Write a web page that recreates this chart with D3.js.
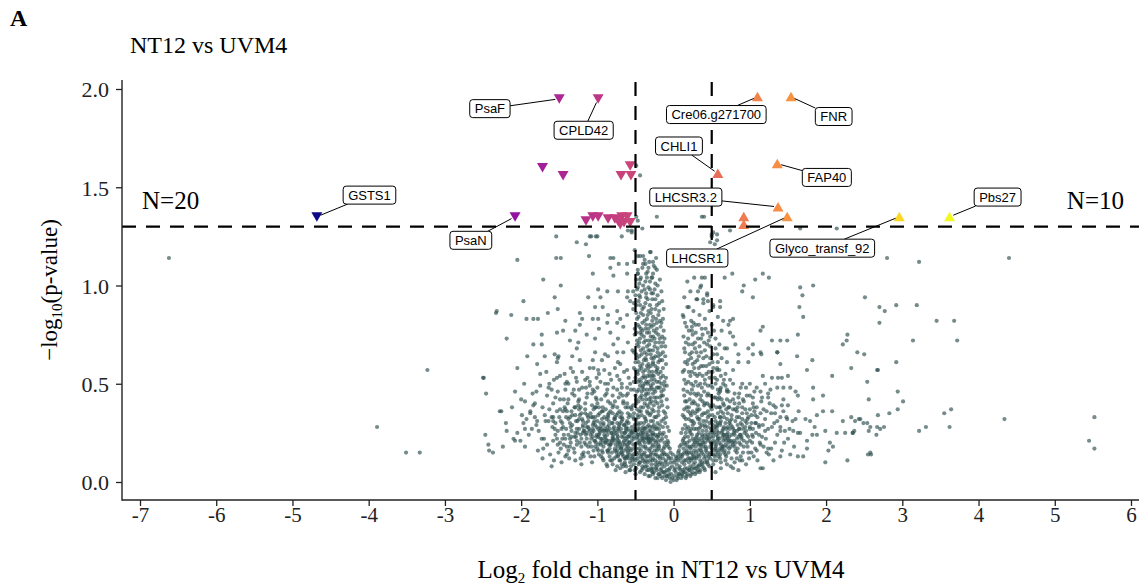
<!DOCTYPE html>
<html>
<head>
<meta charset="utf-8">
<script src="https://cdn.jsdelivr.net/npm/d3@7"></script>
<style>
  body { margin: 0; background: #fff; }
  svg { display: block; }
  .tick text { font-family: 'Liberation Serif', 'Times New Roman', serif; }
</style>
</head>
<body>
<svg id="chart" width="1139" height="587"></svg>
<script>
// axis ticks
var xTicks = [-7, -6, -5, -4, -3, -2, -1, 0, 1, 2, 3, 4, 5, 6];
var yTicks = [0, 0.5, 1, 1.5, 2];
var fcCut = [-0.5, 0.5];
var pCut = 1.3;
var nDown = "N=20", nUp = "N=10";

// significant proteins (log2 FC, -log10 p)
var sigGene = ["GSTS1", "PsaN", "PsaF", "CPLD42", "", "", "", "", "",
  "", "", "", "", "", "", "", "", "", "", "",
  "Cre06.g271700", "FNR", "CHLI1", "FAP40", "LHCSR3.2", "LHCSR1", "", "", "Glyco_transf_92", "Pbs27"];
var sigFC = [-4.68, -2.08, -1.50, -0.99, -1.72, -1.45, -0.69, -0.57, -0.56,
  -1.15, -1.06, -0.99, -0.86, -0.77, -0.73, -0.68, -0.61, -0.65, -0.57, -0.70,
  1.10, 1.54, 0.58, 1.36, 1.37, 1.49, 0.92, 0.92, 2.96, 3.62];
var sigP = [1.35, 1.35, 1.95, 1.95, 1.60, 1.56, 1.56, 1.61, 1.56,
  1.33, 1.35, 1.35, 1.34, 1.34, 1.33, 1.35, 1.35, 1.32, 1.32, 1.31,
  1.96, 1.96, 1.57, 1.62, 1.40, 1.35, 1.35, 1.31, 1.35, 1.35];

// where the repelled labels sit (data units)
var labelGene = ["GSTS1", "PsaN", "PsaF", "CPLD42", "Cre06.g271700", "FNR", "CHLI1", "FAP40", "LHCSR3.2", "LHCSR1", "Glyco_transf_92", "Pbs27"];
var labelX = [-3.99, -2.66, -2.41, -1.18, 0.56, 2.10, 0.07, 2.01, 0.16, 0.31, 1.95, 4.25];
var labelY = [1.46, 1.23, 1.90, 1.79, 1.87, 1.86, 1.71, 1.55, 1.45, 1.14, 1.19, 1.45];

// non-significant proteins, read region by region
var bgSparse = [[-6.62,1.14],[-3.23,0.57],[-3.89,0.28],[-3.51,0.15],[-3.33,0.15],[-2.33,0.86],[-2.49,0.53],[-2.46,0.45],[-2.47,0.24],[-2.43,0.19],[-2.42,0.16],[-2.37,0.15],[-2.28,0.36],[-2.24,0.18],[-2.19,0.26],
  [2.80,1.14],[3.22,1.12],[4.40,1.14],[2.51,0.94],[2.70,0.89],[2.77,0.87],[2.92,0.90],[3.19,0.90],[2.70,0.81],[3.45,0.82],[3.68,0.82],[3.14,0.72],[3.72,0.72],[2.41,0.66],[2.50,0.65],[2.33,0.58],[2.68,0.57],[2.92,0.61],[2.54,0.51],[2.56,0.42],[2.94,0.46],[3.01,0.41],[2.94,0.37],[2.68,0.34],[2.83,0.35],[3.55,0.35],[3.64,0.37],[2.33,0.33],[2.38,0.31],[2.43,0.32],[2.49,0.30],[2.54,0.30],[2.58,0.28],[2.56,0.26],[2.66,0.24],[2.71,0.27],[2.76,0.28],[2.35,0.25],[2.37,0.26],[3.22,0.26],[3.31,0.28],[3.62,0.28],[4.34,0.32],[5.52,0.33],[5.45,0.21],[5.52,0.17],[2.55,0.14],[2.59,0.14],[1.66,1.29],[2.14,1.29],
  [-0.22,1.35],[0.37,1.35],[0.40,1.35],[0.74,1.28],[-0.49,1.61],[-0.44,1.56],[-0.49,1.35],[-0.47,1.33],[-0.60,1.28],[-0.55,1.28],[-0.41,1.29],[-1.08,1.25],[-1.00,1.25],[-0.68,1.25],[0.50,1.26],[0.57,1.26],[0.48,1.22],[0.54,1.21],[-0.51,1.18]];

var bgLeftUpper = [[-1.54,1.25],[-1.10,1.25],[-1.02,1.25],[-0.55,1.27],[-1.27,1.22],[-1.15,1.21],[-2.05,1.13],[-1.54,1.14],[-1.48,1.14],[-1.11,1.15],[-0.83,1.14],[-0.79,1.14],[-0.72,1.11],[-0.61,1.11],[-0.47,1.15],[-0.40,1.15],[-0.31,1.17],[-0.27,1.12],[-0.37,1.11],[-0.33,1.09],[-0.24,1.09],[-0.83,1.09],[-0.79,1.05],[-0.61,1.06],[-0.47,1.06],[-0.35,1.04],[-0.44,1.03],[-0.28,1.04],[-1.06,1.06],[-1.71,1.03],[-1.48,1.00],[-1.56,0.94],[-1.97,0.92],[-2.32,0.87],[-2.13,0.85],[-1.93,0.83],[-1.84,0.83],[-1.78,0.83],[-1.65,0.86],[-1.52,0.88],[-1.42,0.82],[-1.12,0.94],[-1.03,0.89],[-0.99,0.98],[-0.87,0.97],[-0.73,0.97],[-0.60,0.97],[-0.96,0.94],[-0.93,0.89],[-0.61,0.94],[-0.57,0.92],[-1.23,0.86],[-1.20,0.83],[-1.06,0.83],[-0.99,0.83],[-0.86,0.85],[-0.74,0.87],[-0.70,0.83],[-0.61,0.85],[-0.74,0.81],[-0.87,0.81],[-0.66,0.79],[-1.23,0.80],[-1.29,0.77],[-1.45,0.77],[-1.53,0.76],[-1.73,0.75],[-2.19,0.73],[-1.84,0.70],[-1.73,0.70],[-1.36,0.72],[-1.25,0.71],[-1.14,0.75],[-1.03,0.73],[-0.98,0.78],[-0.83,0.76],[-0.73,0.73],[-0.79,0.70],[-0.60,0.71],[-1.56,0.65],[-1.52,0.63],[-1.27,0.68],[-1.03,0.66],[-1.92,0.64],[-0.90,0.65]];

var bgRightUpper = [[0.50,1.25],[0.52,1.27],[0.57,1.23],[0.37,1.04],[0.41,1.04],[0.36,1.00],[0.67,1.04],[0.77,1.06],[1.07,1.03],[1.17,1.06],[1.25,1.04],[0.90,0.97],[0.92,1.00],[1.04,0.94],[1.66,0.99],[1.83,1.00],[1.69,0.95],[1.65,0.89],[1.70,0.84],[0.32,0.97],[0.31,0.93],[0.44,0.96],[0.39,0.93],[0.45,0.92],[0.61,0.92],[0.52,0.89],[0.61,0.89],[0.65,0.82],[0.74,0.82],[0.78,0.83],[0.72,0.80],[0.74,0.76],[0.78,0.74],[0.81,0.70],[0.70,0.68],[1.14,0.77],[1.17,0.79],[1.29,0.72],[1.40,0.72],[1.49,0.72],[0.98,0.68],[1.04,0.70],[1.14,0.66],[1.36,0.66],[1.63,0.75],[1.62,0.64],[2.22,0.70],[2.27,0.72],[2.28,0.75],[0.18,0.89],[0.13,0.84],[0.26,0.81],[0.24,0.77]];

var bgRightLobe = [[0.85,0.65],[1.04,0.65],[1.15,0.65],[1.36,0.66],[1.82,0.62],[0.85,0.61],[0.98,0.61],[1.40,0.60],[1.75,0.57],[2.08,0.54],[2.67,0.57],[0.57,0.57],[0.78,0.57],[1.17,0.54],[1.29,0.53],[1.37,0.53],[1.42,0.53],[1.50,0.54],[0.65,0.50],[0.78,0.50],[0.90,0.50],[1.00,0.50],[1.09,0.48],[1.20,0.50],[1.27,0.47],[1.36,0.48],[1.44,0.48],[1.53,0.48],[1.60,0.46],[1.63,0.44],[1.83,0.48],[1.96,0.44],[0.61,0.46],[0.70,0.46],[0.85,0.43],[0.91,0.42],[0.96,0.44],[1.04,0.43],[1.14,0.46],[1.16,0.43],[1.24,0.43],[1.31,0.39],[1.42,0.39],[1.50,0.39],[1.83,0.42],[0.58,0.42],[0.74,0.41],[0.61,0.38],[0.72,0.38],[0.81,0.37],[0.90,0.38],[1.00,0.37],[1.09,0.38],[1.14,0.35],[1.22,0.36],[1.33,0.35],[1.40,0.33],[1.49,0.32],[1.60,0.32],[1.73,0.32],[1.79,0.31],[1.88,0.34],[1.96,0.36],[2.08,0.36],[2.22,0.31],[2.45,0.32],[2.67,0.28],[0.61,0.33],[0.70,0.32],[0.81,0.31],[0.90,0.32],[0.96,0.30],[1.07,0.30],[1.17,0.29],[1.29,0.28],[1.40,0.26],[1.46,0.26],[1.57,0.26],[1.63,0.25],[1.82,0.24],[1.88,0.24],[1.99,0.26],[2.14,0.25],[2.25,0.25],[2.35,0.25],[2.05,0.20],[2.03,0.16],[2.09,0.18],[1.99,0.10],[2.28,0.11],[2.58,0.15],[1.75,0.17],[1.70,0.13],[1.63,0.13],[1.53,0.14],[1.40,0.13],[1.31,0.11],[1.22,0.15],[1.17,0.07],[1.14,0.07],[1.24,0.17],[1.14,0.19],[1.03,0.20],[1.09,0.16],[0.98,0.15],[0.87,0.11],[0.85,0.06],[0.78,0.07],[0.70,0.09],
  [0.80,0.10],[0.88,0.13],[0.95,0.09],[1.02,0.15],[1.10,0.11],[1.18,0.18],[1.25,0.14],[1.33,0.20],[1.42,0.16],[1.50,0.22],[1.58,0.18],[1.66,0.25],[1.75,0.21],[1.85,0.28],[0.92,0.18],[1.00,0.21],[1.08,0.25],[1.16,0.23],[1.24,0.27],[1.32,0.30],[1.40,0.28],[1.48,0.33],[1.56,0.31],[1.64,0.36],[0.86,0.27],[0.94,0.31],[1.02,0.34],[1.10,0.33],[1.18,0.37],[1.26,0.40],[1.34,0.38],[1.44,0.42],[0.76,0.34],[0.84,0.38],[0.92,0.41],[1.00,0.44],[0.80,0.45],[0.88,0.48],[0.70,0.42],[0.66,0.39],[0.74,0.52],[0.62,0.48],[0.68,0.55],
  [0.55,0.05],[0.62,0.07],[0.68,0.11],[0.75,0.08],[0.83,0.15],[0.90,0.11],[0.97,0.18],[1.05,0.13],[1.13,0.20],[1.21,0.22],[1.28,0.17],[1.36,0.24],[1.45,0.20],[0.58,0.30],[0.65,0.35],[0.73,0.27],[0.80,0.40],[0.88,0.30],[0.96,0.35],[1.04,0.40],[1.12,0.28],[1.20,0.32],[1.28,0.35],[1.36,0.31],[1.44,0.36],[1.52,0.27],[0.60,0.43],[0.70,0.47],[0.78,0.42],[0.86,0.45],[0.95,0.48],[1.06,0.46],[1.15,0.41],[1.24,0.45],
  [0.62,0.10],[0.69,0.13],[0.76,0.12],[0.83,0.12],[0.91,0.15],[0.99,0.12],[1.07,0.17],[0.65,0.18],[0.73,0.21],[0.81,0.16],[0.88,0.24],[0.96,0.20],[1.04,0.23],[1.12,0.24],[1.20,0.26],[0.68,0.30],[0.75,0.29],[0.83,0.33],[0.90,0.35],[0.98,0.33],[1.06,0.36],[0.71,0.35],[0.78,0.37],[0.86,0.40]];

var bgLeftLobe = [[-2.50,0.53],[-2.26,0.36],[-2.05,0.58],[-2.08,0.46],[-1.96,0.50],[-1.95,0.41],[-1.99,0.34],[-1.93,0.32],[-1.88,0.35],[-1.86,0.27],[-2.01,0.21],[-1.95,0.18],[-1.82,0.40],[-1.82,0.33],[-1.79,0.31],[-1.73,0.22],[-1.71,0.17],[-1.79,0.60],[-1.75,0.55],[-1.69,0.64],[-1.67,0.56],[-1.63,0.50],[-1.60,0.47],[-1.53,0.53],[-1.49,0.54],[-1.51,0.64],[-1.53,0.61],[-2.08,0.21],[-2.05,0.25],[-1.60,0.33],[-1.58,0.31],[-1.56,0.27],[-1.52,0.26],[-1.53,0.22],[-1.49,0.20],[-1.42,0.22],[-1.45,0.28],[-1.40,0.36],[-1.38,0.42],[-1.49,0.42],[-1.42,0.47],[-1.33,0.45],[-1.40,0.51],[-1.32,0.56],[-1.23,0.62],[-1.33,0.64],[-1.27,0.51],[-1.20,0.48],[-1.16,0.52],[-1.29,0.38],[-1.25,0.41],[-1.23,0.34],[-1.19,0.31],[-1.14,0.28],[-1.29,0.25],[-1.36,0.22],[-1.38,0.16],[-1.42,0.13],[-1.36,0.18],[-1.23,0.20],[-1.20,0.14],[-1.12,0.15],[-1.10,0.20],[-1.07,0.25],[-1.06,0.33],[-1.03,0.38],[-1.01,0.42],[-1.06,0.47],[-1.10,0.51],[-1.01,0.53],[-0.99,0.57],[-1.10,0.58],[-1.06,0.62],[-0.94,0.62],[-0.86,0.64],[-0.74,0.66],[-0.66,0.66],[-0.73,0.61],[-0.61,0.57],[-0.74,0.54],[-0.86,0.50],[-0.79,0.48],[-0.70,0.45],[-0.61,0.48],[-0.90,0.44],[-0.83,0.40],[-0.74,0.38],[-0.66,0.41],[-0.60,0.38],[-0.93,0.36],[-0.86,0.33],[-0.77,0.32],[-0.68,0.33],[-0.61,0.31],[-0.96,0.30],[-0.90,0.27],[-0.81,0.25],[-0.73,0.27],[-0.64,0.25],[-0.99,0.23],[-0.90,0.20],[-0.81,0.21],[-0.73,0.20],[-0.61,0.19],[-1.03,0.18],[-0.94,0.16],[-0.86,0.15],[-0.77,0.16],[-0.68,0.15],[-0.60,0.16],[-0.93,0.12],[-0.81,0.11],[-0.70,0.11],[-0.61,0.13],[-0.87,0.08],[-0.74,0.08],[-0.64,0.09],[-0.57,0.06],[-0.50,0.04],
  [-1.62,0.14],[-1.48,0.17],[-1.35,0.20],[-1.70,0.22],[-1.55,0.24],[-1.41,0.27],[-1.80,0.29],[-1.64,0.31],[-1.50,0.33],[-1.88,0.36],[-1.72,0.38],[-1.58,0.40],[-1.44,0.42],[-1.30,0.44],[-1.16,0.40],[-1.02,0.43],[-0.88,0.45],[-0.74,0.47],[-1.24,0.47],[-1.10,0.49],[-0.96,0.51],[-0.82,0.52],[-0.68,0.50],[-1.38,0.50],[-1.52,0.46],[-1.66,0.44],[-1.26,0.25],[-1.14,0.22],[-0.99,0.19],[-0.86,0.16],[-0.75,0.13],[-0.64,0.10],[-1.18,0.15],[-1.31,0.17],[-1.04,0.13],[-0.92,0.11],[-0.80,0.09],[-0.70,0.07],[-0.58,0.06],[-1.22,0.12],[-1.40,0.14],[-0.60,0.35],[-0.66,0.40],[-0.72,0.43],[-0.79,0.39],[-0.86,0.41],[-0.93,0.38],[-1.00,0.40],[-1.07,0.45],[-1.14,0.43],[-0.62,0.44],[-0.56,0.47],[-0.59,0.53],[-0.65,0.56],[-0.70,0.60],[-0.77,0.58],[-0.84,0.55],[-0.91,0.57],[-0.98,0.55],[-1.05,0.58],[-1.13,0.53],[-1.20,0.56],[-1.28,0.53],[-1.35,0.58],[-1.43,0.55],[-1.57,0.52],[-1.75,0.49],[-1.85,0.45],[-2.00,0.42],[-2.12,0.38],[-2.20,0.30],[-2.10,0.22],[-1.95,0.27],[-1.78,0.16],[-1.60,0.08],[-1.47,0.10],
  [-1.97,0.30],[-1.90,0.24],[-1.84,0.39],[-1.77,0.26],[-1.69,0.34],[-1.66,0.19],[-1.59,0.28],[-1.55,0.43],[-1.51,0.15],[-1.46,0.30],[-1.44,0.24],[-1.39,0.40],[-1.37,0.12],[-1.34,0.26],[-1.31,0.47],[-1.27,0.19],[-1.24,0.42],[-1.21,0.09],[-1.18,0.26],[-1.15,0.48],[-1.12,0.18],[-1.09,0.35],[-1.07,0.10],[-1.04,0.46],[-1.01,0.28],[-0.98,0.14],[-0.95,0.42],[-0.93,0.26],[-0.90,0.50],[-0.88,0.09],[-0.85,0.35],[-0.83,0.19],[-0.80,0.44],[-0.78,0.28],[-0.76,0.06],[-0.73,0.35],[-0.71,0.52],[-0.69,0.17],[-0.67,0.44],[-0.65,0.29],[-0.63,0.05],[-0.61,0.40],[-0.59,0.23],[-0.57,0.50],[-0.55,0.12],[-0.53,0.33],[-0.52,0.58],[-0.51,0.06],
  [-1.80,0.46],[-1.72,0.12],[-1.64,0.48],[-1.57,0.11],[-1.49,0.37],[-1.42,0.50],[-1.36,0.30],[-1.29,0.11],[-1.22,0.38],[-1.17,0.20],[-1.13,0.45],[-1.09,0.13],[-1.05,0.30],[-1.00,0.48],[-0.96,0.22],[-0.91,0.33],[-0.87,0.47],[-0.84,0.13],[-0.81,0.30],[-0.77,0.41],[-0.74,0.22],[-0.70,0.33],[-0.68,0.48],[-0.66,0.08],[-0.62,0.26],[-0.60,0.45],[-0.58,0.20],[-0.56,0.38],[-0.54,0.25],
  [-1.58,0.21],[-1.52,0.19],[-1.46,0.22],[-1.40,0.18],[-1.34,0.23],[-1.27,0.21],[-1.21,0.18],[-1.15,0.19],[-1.09,0.24],[-1.03,0.21],[-0.97,0.26],[-0.91,0.24],[-0.85,0.21],[-0.79,0.24],[-0.72,0.26],[-0.66,0.20],[-0.60,0.27],[-1.55,0.30],[-1.47,0.27],[-1.41,0.33],[-1.33,0.29],[-1.26,0.31],[-1.19,0.25],[-1.13,0.34],[-1.06,0.29],[-0.99,0.34],[-0.92,0.30],[-0.86,0.26],[-0.80,0.35],[-0.74,0.30],[-0.68,0.35],[-0.62,0.30],[-0.57,0.34],[-1.44,0.19],[-1.30,0.15],[-1.18,0.13],[-1.05,0.16],[-0.95,0.13],[-0.83,0.11],[-0.72,0.14],[-0.63,0.12]];

var bgLeftColumn = [[-0.52,1.12],[-0.44,1.15],[-0.38,1.13],[-0.30,1.17],[-0.26,1.10],[-0.41,1.09],[-0.34,1.07],[-0.47,1.06],[-0.22,1.08],[-0.29,1.04],[-0.37,1.02],[-0.45,1.01],[-0.18,1.03],[-0.33,0.99],[-0.25,0.98],[-0.42,0.97],[-0.50,0.95],[-0.21,0.95],[-0.36,0.94],[-0.28,0.93],[-0.46,0.92],[-0.15,0.92],[-0.31,0.90],[-0.39,0.89],[-0.24,0.88],[-0.53,0.88],[-0.19,0.87],[-0.43,0.86],[-0.34,0.85],[-0.27,0.84],[-0.48,0.83],[-0.14,0.83],[-0.38,0.82],[-0.22,0.81],[-0.31,0.80],[-0.45,0.79],[-0.17,0.79],[-0.41,0.77],[-0.26,0.77],[-0.35,0.76],[-0.51,0.75],[-0.20,0.75],[-0.30,0.74],[-0.44,0.73],[-0.12,0.73],[-0.37,0.72],[-0.24,0.71],[-0.48,0.70],[-0.32,0.70],[-0.16,0.69],[-0.40,0.68],[-0.27,0.67],[-0.54,0.67],[-0.21,0.66],[-0.35,0.65],[-0.45,0.64],[-0.11,0.64],[-0.29,0.63],[-0.39,0.62],[-0.18,0.62],[-0.50,0.61],[-0.33,0.60],[-0.24,0.59],[-0.42,0.58],[-0.14,0.58],[-0.37,0.57],[-0.28,0.56],[-0.47,0.55],[-0.20,0.55],[-0.31,0.54],[-0.41,0.53],[-0.10,0.53],[-0.25,0.52],[-0.36,0.51],[-0.52,0.51],[-0.16,0.50],[-0.44,0.49],[-0.30,0.49],[-0.22,0.48],[-0.39,0.47],[-0.13,0.47],[-0.48,0.46],[-0.33,0.45],[-0.27,0.45],[-0.42,0.44],[-0.18,0.43],[-0.36,0.42],[-0.09,0.42],[-0.46,0.41],[-0.24,0.41],[-0.31,0.40],[-0.53,0.39],[-0.15,0.39],[-0.40,0.38],[-0.28,0.37],[-0.20,0.36],[-0.45,0.36],[-0.34,0.35],[-0.11,0.35],[-0.38,0.33],[-0.23,0.33],[-0.49,0.32],[-0.30,0.31],[-0.16,0.31],[-0.43,0.30],[-0.26,0.29],[-0.35,0.28],[-0.08,0.28],[-0.19,0.27],[-0.47,0.27],[-0.32,0.26],[-0.40,0.25],[-0.13,0.25],[-0.24,0.24],[-0.52,0.23],[-0.37,0.23],[-0.29,0.22],[-0.17,0.21],[-0.44,0.21],[-0.07,0.20],[-0.33,0.20],
  [-0.49,1.03],[-0.40,1.11],[-0.32,1.12],[-0.23,1.14],[-0.36,0.96],[-0.44,0.94],[-0.27,0.96],[-0.19,0.91],[-0.33,0.87],[-0.40,0.85],[-0.23,0.83],[-0.47,0.80],[-0.29,0.79],[-0.37,0.78],[-0.13,0.77],[-0.42,0.75],[-0.25,0.73],[-0.33,0.72],[-0.19,0.71],[-0.46,0.69],[-0.38,0.66],[-0.30,0.65],[-0.24,0.64],[-0.14,0.66],[-0.48,0.63],[-0.41,0.60],[-0.27,0.61],[-0.35,0.59],[-0.21,0.58],[-0.45,0.57],[-0.32,0.56],[-0.17,0.56],[-0.39,0.54],[-0.26,0.54],[-0.50,0.53],[-0.43,0.51],[-0.34,0.50],[-0.19,0.51],[-0.27,0.50],[-0.41,0.48],[-0.12,0.49],[-0.35,0.47],[-0.24,0.46],[-0.50,0.44],[-0.30,0.43],[-0.44,0.43],[-0.16,0.44],[-0.38,0.40],[-0.21,0.40],[-0.33,0.38],[-0.48,0.37],[-0.26,0.36],[-0.13,0.36],[-0.42,0.34],[-0.31,0.34],[-0.36,0.31],[-0.21,0.30],[-0.46,0.29],[-0.28,0.28],[-0.11,0.30],[-0.39,0.27],[-0.34,0.24],[-0.20,0.24],[-0.47,0.24],[-0.27,0.25],[-0.41,0.22],[-0.10,0.23],[-0.30,0.21],[-0.23,0.20],[-0.50,0.19],
  [-0.53,0.97],[-0.47,0.99],[-0.40,1.00],[-0.31,0.98],[-0.24,1.01],[-0.16,0.97],[-0.52,0.91],[-0.44,0.90],[-0.37,0.91],[-0.29,0.88],[-0.22,0.90],[-0.13,0.88],[-0.49,0.86],[-0.41,0.81],[-0.35,0.83],[-0.26,0.80],[-0.18,0.82],[-0.51,0.78],[-0.44,0.76],[-0.33,0.78],[-0.23,0.76],[-0.15,0.74],[-0.48,0.72],[-0.39,0.71],[-0.29,0.72],[-0.21,0.68],[-0.11,0.69],[-0.52,0.66],[-0.43,0.67],[-0.33,0.67],[-0.26,0.63],[-0.17,0.65],[-0.46,0.61],[-0.36,0.62],[-0.30,0.59],[-0.20,0.61],[-0.10,0.60],[-0.50,0.57],[-0.40,0.56],[-0.34,0.54],[-0.23,0.56],[-0.14,0.54],[-0.47,0.51],[-0.38,0.50],[-0.29,0.52],[-0.20,0.48],[-0.09,0.49],[-0.52,0.47],[-0.42,0.46],[-0.31,0.47],[-0.25,0.43],[-0.16,0.46],[-0.49,0.42],[-0.37,0.44],[-0.29,0.41],[-0.19,0.38],[-0.08,0.38],[-0.52,0.35],[-0.43,0.38],[-0.35,0.36],[-0.25,0.33],[-0.13,0.32],[-0.46,0.33],[-0.39,0.30],[-0.31,0.28],[-0.22,0.27],[-0.14,0.28],[-0.06,0.26],[-0.48,0.26],[-0.41,0.26],[-0.33,0.23],[-0.18,0.25],[-0.09,0.19],
  [-0.47,1.08],[-0.36,1.06],[-0.27,1.06],[-0.43,1.04],[-0.31,1.02],[-0.21,1.00],[-0.48,0.98],[-0.38,0.98],[-0.29,0.96],[-0.45,0.95],[-0.34,0.93],[-0.24,0.93],[-0.49,0.90],[-0.41,0.88],[-0.30,0.86],[-0.20,0.85],[-0.46,0.84],[-0.36,0.80],[-0.28,0.82],[-0.16,0.81],[-0.43,0.78],[-0.32,0.76],[-0.22,0.78],[-0.49,0.76],[-0.39,0.74],[-0.27,0.74],[-0.18,0.73],[-0.45,0.71],[-0.35,0.69],[-0.25,0.69],[-0.14,0.71],[-0.42,0.65],[-0.31,0.67],[-0.20,0.64],[-0.49,0.65],[-0.37,0.63],[-0.27,0.60],[-0.15,0.62],[-0.44,0.59],[-0.33,0.58],[-0.22,0.57],[-0.48,0.56],[-0.37,0.53],[-0.28,0.54],[-0.17,0.53],[-0.45,0.52],[-0.33,0.51],[-0.22,0.51],[-0.12,0.51],[-0.40,0.49],[-0.29,0.48],[-0.18,0.48],[-0.46,0.47],[-0.36,0.45],[-0.26,0.47],[-0.14,0.44],[-0.41,0.42],[-0.32,0.42],[-0.22,0.43],[-0.49,0.40],[-0.35,0.39],[-0.26,0.39],[-0.16,0.41],[-0.43,0.36],[-0.30,0.35],[-0.20,0.34],[-0.47,0.34],[-0.37,0.32],[-0.27,0.31],[-0.10,0.33]];

var bgRightColumn = [[0.18,1.02],[0.27,1.04],[0.35,0.99],[0.22,0.97],[0.44,0.95],[0.14,0.94],[0.30,0.93],[0.39,0.91],[0.52,0.90],[0.20,0.89],[0.26,0.87],[0.47,0.87],[0.34,0.85],[0.12,0.85],[0.58,0.84],[0.41,0.83],[0.23,0.82],[0.29,0.80],[0.50,0.80],[0.17,0.79],[0.37,0.78],[0.63,0.77],[0.45,0.76],[0.25,0.75],[0.13,0.74],[0.32,0.73],[0.55,0.73],[0.40,0.71],[0.20,0.70],[0.48,0.69],[0.28,0.68],[0.67,0.68],[0.36,0.66],[0.15,0.66],[0.57,0.65],[0.43,0.64],[0.23,0.63],[0.31,0.62],[0.51,0.61],[0.70,0.61],[0.18,0.60],[0.39,0.59],[0.27,0.58],[0.60,0.57],[0.46,0.56],[0.12,0.56],[0.34,0.55],[0.22,0.54],[0.54,0.53],[0.66,0.52],[0.41,0.52],[0.29,0.51],[0.16,0.50],[0.49,0.49],[0.37,0.48],[0.58,0.47],[0.24,0.47],[0.72,0.46],[0.32,0.45],[0.44,0.44],[0.14,0.44],[0.53,0.43],[0.21,0.42],[0.63,0.42],[0.38,0.41],[0.28,0.40],[0.47,0.39],[0.17,0.38],[0.56,0.38],[0.34,0.37],[0.69,0.37],[0.25,0.36],[0.42,0.35],[0.12,0.34],[0.51,0.34],[0.31,0.33],[0.61,0.33],[0.20,0.32],[0.39,0.31],[0.74,0.31],[0.27,0.30],[0.47,0.30],[0.15,0.29],[0.57,0.29],[0.35,0.28],[0.65,0.27],[0.23,0.27],[0.43,0.26],[0.10,0.25],[0.53,0.25],[0.31,0.24],[0.19,0.23],[0.70,0.23],[0.40,0.22],[0.60,0.22],[0.27,0.21],[0.49,0.20],[0.14,0.20],[0.36,0.19],[0.78,0.19],
  [0.15,0.81],[0.24,0.79],[0.33,0.80],[0.42,0.78],[0.53,0.77],[0.19,0.73],[0.28,0.71],[0.36,0.73],[0.46,0.72],[0.60,0.70],[0.14,0.68],[0.24,0.66],[0.33,0.64],[0.41,0.67],[0.52,0.65],[0.63,0.63],[0.19,0.62],[0.28,0.61],[0.36,0.59],[0.47,0.60],[0.57,0.58],[0.14,0.57],[0.24,0.56],[0.31,0.54],[0.43,0.55],[0.51,0.56],[0.62,0.54],[0.19,0.51],[0.26,0.49],[0.35,0.50],[0.45,0.49],[0.55,0.50],[0.68,0.49],[0.13,0.47],[0.22,0.45],[0.30,0.44],[0.40,0.46],[0.48,0.44],[0.59,0.45],[0.17,0.41],[0.26,0.41],[0.35,0.42],[0.44,0.40],[0.52,0.39],[0.65,0.40],[0.14,0.37],[0.22,0.35],[0.31,0.36],[0.39,0.35],[0.47,0.34],[0.58,0.35],[0.16,0.32],[0.25,0.31],[0.34,0.30],[0.43,0.31],[0.52,0.29],[0.12,0.27],[0.21,0.26],[0.30,0.27],[0.38,0.26],[0.48,0.25],[0.57,0.26],[0.66,0.24],
  [0.20,0.77],[0.29,0.76],[0.38,0.75],[0.48,0.74],[0.16,0.71],[0.25,0.70],[0.34,0.69],[0.44,0.70],[0.55,0.68],[0.21,0.65],[0.30,0.66],[0.39,0.63],[0.48,0.63],[0.58,0.61],[0.15,0.61],[0.25,0.60],[0.33,0.58],[0.43,0.59],[0.52,0.58],[0.20,0.56],[0.28,0.55],[0.38,0.54],[0.47,0.53],[0.57,0.52],[0.14,0.52],[0.23,0.50],[0.32,0.49],[0.41,0.50],[0.51,0.48],[0.61,0.47],[0.18,0.46],[0.27,0.45],[0.36,0.44],[0.45,0.45],[0.55,0.43],[0.15,0.41],[0.24,0.40],[0.32,0.39],[0.41,0.40],[0.49,0.38],[0.60,0.38],[0.19,0.36],[0.28,0.35],[0.37,0.34],[0.45,0.36],[0.54,0.33],[0.14,0.33],[0.23,0.31],[0.32,0.32],[0.41,0.29],[0.50,0.31],[0.61,0.30]];

var bgCore = [[0.00,0.01],[-0.05,0.02],[0.06,0.02],[-0.12,0.03],[0.12,0.03],[-0.19,0.04],[0.18,0.04],[-0.26,0.05],[0.25,0.05],[-0.03,0.04],[0.03,0.05],[-0.09,0.06],[0.09,0.06],[-0.33,0.06],[0.32,0.06],[-0.16,0.07],[0.15,0.07],[-0.40,0.07],[0.38,0.08],[-0.22,0.08],[0.22,0.08],[-0.02,0.08],[0.04,0.09],[-0.46,0.09],[0.45,0.09],[-0.29,0.09],[0.28,0.10],[-0.11,0.10],[0.11,0.10],[-0.36,0.11],[0.35,0.11],[-0.54,0.11],[0.52,0.11],[-0.18,0.12],[0.19,0.12],[-0.06,0.12],[0.06,0.13],[-0.43,0.13],[0.42,0.13],[-0.61,0.13],[0.59,0.13],[-0.25,0.14],[0.25,0.14],[-0.50,0.15],[0.49,0.15],[-0.13,0.15],[0.14,0.15],[-0.69,0.15],[0.66,0.15],[-0.32,0.16],[0.32,0.16],[-0.57,0.17],[0.55,0.17],[-0.77,0.17],[0.73,0.17],[-0.20,0.17],[0.21,0.18],[-0.40,0.18],[0.39,0.18],[-0.64,0.19],[0.62,0.19],[-0.85,0.19],[0.81,0.20],[-0.27,0.19],[0.28,0.20],[-0.48,0.20],[0.45,0.21],[-0.72,0.21],[0.69,0.21],[-0.93,0.21],[0.89,0.22],[-0.35,0.22],[0.34,0.22],[-0.56,0.23],[0.52,0.23],[-0.80,0.23],[0.76,0.24],[-1.01,0.24],[0.96,0.24],[-0.43,0.25],[-0.64,0.25],[0.59,0.25],[-0.88,0.26],[0.83,0.26],[-1.10,0.26],[1.04,0.27],[-0.51,0.27],[-0.72,0.28],[0.66,0.28],[-0.96,0.28],[0.90,0.29],[-1.19,0.29],[1.12,0.29],[-0.59,0.30],[-0.80,0.30],[0.73,0.30],[-1.04,0.31],[-1.28,0.31],[-0.67,0.32],[-0.88,0.32],[-1.12,0.33],[-1.36,0.33],[-0.75,0.34],[-0.97,0.35],[-1.21,0.35],[-1.45,0.36],[-0.83,0.36],[-1.05,0.37],[-1.30,0.38],
  [-0.08,0.03],[0.08,0.04],[-0.15,0.05],[0.15,0.05],[-0.22,0.06],[0.21,0.06],[-0.30,0.07],[0.29,0.07],[-0.37,0.08],[0.34,0.09],[-0.44,0.10],[0.41,0.10],[-0.51,0.12],[0.48,0.12],[-0.58,0.14],[0.55,0.14],[-0.65,0.16],[0.62,0.16],[-0.73,0.18],[0.70,0.18],[-0.81,0.20],[0.77,0.20],[-0.89,0.22],[0.85,0.23],[-0.97,0.25],[0.93,0.25],[-1.06,0.27],[1.00,0.27],[-1.15,0.30],[1.08,0.30],[-1.24,0.32],[-1.33,0.34],[-1.42,0.37],[-0.04,0.10],[0.02,0.11],[-0.24,0.11],[0.24,0.12],[-0.31,0.13],[0.30,0.13],[-0.09,0.14],[0.09,0.14],[-0.38,0.15],[0.37,0.15],[-0.16,0.16],[0.17,0.16],[-0.45,0.17],[0.43,0.17],[-0.23,0.18],[0.24,0.18],[-0.53,0.19],[0.50,0.19],[-0.31,0.20],[0.31,0.20],[-0.61,0.21],[0.57,0.21],[-0.39,0.22],[0.38,0.23],[-0.68,0.23],[0.64,0.23],[-0.46,0.24],[0.45,0.24],[-0.76,0.25],[0.71,0.25],[-0.54,0.26],[0.51,0.26],[-0.84,0.27],[0.78,0.27],[-0.62,0.28],[0.57,0.28],[-0.92,0.29],[0.84,0.29],[-0.70,0.30],[0.62,0.31],[-1.00,0.31],[-0.78,0.32],[-1.08,0.33],[-0.86,0.34],[-1.16,0.35],[-0.94,0.36],[-1.24,0.37],[-1.02,0.38]];

var bgCoreDense = [[-0.31,0.03],[-0.24,0.02],[-0.17,0.03],[-0.10,0.01],[-0.04,0.00],[0.04,0.01],[0.10,0.02],[0.17,0.03],[0.23,0.04],[0.30,0.05],[-0.28,0.05],[-0.20,0.04],[-0.13,0.05],[-0.06,0.04],[0.01,0.03],[0.07,0.04],[0.13,0.05],[0.20,0.06],[0.27,0.07],[0.35,0.06],
  [-0.49,0.07],[-0.42,0.06],[-0.35,0.08],[-0.27,0.07],[-0.19,0.09],[-0.12,0.08],[-0.05,0.07],[0.02,0.07],[0.08,0.08],[0.14,0.09],[0.20,0.10],[0.26,0.09],[0.33,0.08],[0.40,0.07],[0.47,0.08],[-0.45,0.10],[-0.38,0.10],[-0.31,0.11],[-0.24,0.09],[-0.17,0.10],[-0.08,0.09],[0.00,0.10],[0.06,0.11],[0.16,0.11],[0.23,0.11],[0.30,0.12],[0.37,0.10],[0.44,0.11],[0.52,0.09],[0.56,0.11],
  [-0.78,0.12],[-0.71,0.11],[-0.64,0.12],[-0.57,0.10],[-0.50,0.11],[-0.41,0.12],[-0.34,0.13],[-0.27,0.12],[-0.21,0.13],[-0.14,0.12],[-0.07,0.13],[0.04,0.12],[0.11,0.13],[0.18,0.14],[0.26,0.13],[0.33,0.14],[0.40,0.12],[0.47,0.14],[0.54,0.13],[0.61,0.12],[0.68,0.14],[-0.75,0.15],[-0.67,0.14],[-0.60,0.15],[-0.53,0.14],[-0.46,0.15],[-0.39,0.14],[-0.29,0.15],[-0.22,0.16],[-0.15,0.14],[-0.04,0.15],[0.07,0.16],[0.13,0.17],[0.20,0.15],[0.27,0.16],[0.35,0.17],[0.42,0.16],[0.50,0.17],[0.57,0.16],[0.64,0.17],[0.72,0.15],
  [-1.08,0.18],[-1.00,0.17],[-0.92,0.18],[-0.84,0.17],[-0.76,0.19],[-0.68,0.18],[-0.60,0.18],[-0.52,0.17],[-0.44,0.19],[-0.36,0.17],[-0.28,0.18],[-0.20,0.19],[-0.12,0.18],[-0.05,0.17],[0.10,0.19],[0.18,0.18],[0.26,0.19],[0.33,0.19],[0.41,0.20],[0.48,0.18],[0.56,0.19],[0.64,0.18],[0.72,0.20],[0.80,0.18],[0.88,0.19],[-1.04,0.21],[-0.96,0.20],[-0.88,0.21],[-0.79,0.22],[-0.71,0.20],[-0.63,0.22],[-0.55,0.21],[-0.47,0.22],[-0.40,0.21],[-0.32,0.22],[-0.25,0.21],[-0.15,0.22],[-0.08,0.21],[0.13,0.22],[0.21,0.21],[0.29,0.22],[0.37,0.21],[0.44,0.22],[0.52,0.21],[0.60,0.20],[0.67,0.22],[0.75,0.21],[0.83,0.22],[0.92,0.21],
  [-1.38,0.24],[-1.30,0.23],[-1.22,0.24],[-1.14,0.25],[-1.06,0.23],[-0.98,0.24],[-0.90,0.23],[-0.82,0.25],[-0.74,0.24],[-0.66,0.23],[-0.58,0.24],[-0.50,0.25],[-0.42,0.23],[-0.36,0.25],[-0.29,0.24],[-0.22,0.23],[-0.15,0.24],[0.16,0.25],[0.24,0.24],[0.33,0.25],[0.41,0.24],[0.49,0.23],[0.56,0.24],[0.63,0.25],[0.70,0.24],[0.79,0.25],[0.87,0.24],[0.95,0.26],[1.03,0.24],[-1.35,0.28],[-1.27,0.27],[-1.19,0.28],[-1.11,0.27],[-1.03,0.29],[-0.95,0.27],[-0.87,0.28],[-0.79,0.27],[-0.71,0.29],[-0.63,0.27],[-0.55,0.28],[-0.47,0.30],[-0.40,0.28],[-0.33,0.29],[-0.25,0.27],[-0.18,0.29],[0.19,0.28],[0.27,0.27],[0.37,0.29],[0.45,0.28],[0.53,0.27],[0.61,0.29],[0.69,0.27],[0.77,0.28],[0.86,0.27],[0.94,0.28],[1.02,0.30],
  [-1.68,0.31],[-1.58,0.33],[-1.48,0.31],[-1.38,0.32],[-1.29,0.34],[-1.20,0.32],[-1.12,0.31],[-1.03,0.33],[-0.94,0.32],[-0.85,0.31],[-0.77,0.33],[-0.68,0.31],[-0.59,0.33],[-0.52,0.32],[0.23,0.34],[0.34,0.32],[0.45,0.33],[0.55,0.31],[0.66,0.33],[0.76,0.32],[0.86,0.33],[0.97,0.32],[1.07,0.34],[-1.63,0.37],[-1.53,0.36],[-1.43,0.38],[-1.34,0.36],[-1.25,0.39],[-1.16,0.37],[-1.07,0.39],[-0.98,0.38],[-0.89,0.37],[-0.80,0.38],[-0.71,0.36],[-0.63,0.38],[-0.55,0.37],[0.20,0.38],[0.31,0.37],[0.40,0.39],[0.50,0.37],[0.62,0.36],[0.73,0.38],[0.83,0.36],[0.94,0.37],[1.05,0.38]];

var bgCoreExtra = [[-0.44,0.05],[-0.38,0.04],[-0.33,0.03],[-0.27,0.04],[-0.21,0.02],[-0.15,0.02],[-0.09,0.03],[-0.02,0.02],[0.05,0.03],[0.11,0.04],[0.16,0.02],[0.22,0.03],[0.28,0.04],[0.34,0.05],[0.41,0.06],[-0.41,0.08],[-0.35,0.06],[-0.29,0.06],[-0.23,0.07],[-0.17,0.06],[-0.11,0.05],[-0.06,0.06],[0.01,0.06],[0.07,0.07],[0.12,0.06],[0.18,0.07],[0.24,0.07],[0.31,0.08],[0.37,0.09],[0.44,0.10],
  [-0.68,0.09],[-0.62,0.08],[-0.56,0.08],[-0.52,0.09],[-0.47,0.12],[-0.40,0.11],[-0.34,0.10],[-0.28,0.11],[-0.21,0.10],[-0.15,0.09],[-0.10,0.11],[-0.03,0.12],[0.03,0.13],[0.09,0.12],[0.14,0.11],[0.21,0.12],[0.27,0.12],[0.34,0.13],[0.39,0.14],[0.46,0.13],[0.51,0.14],[0.58,0.15],[-0.73,0.13],[-0.66,0.13],[-0.59,0.12],[-0.54,0.13],[-0.48,0.14],[-0.42,0.14],[-0.36,0.13],[-0.30,0.14],[-0.23,0.14],[-0.18,0.13],[-0.12,0.14],[-0.01,0.14],[0.06,0.15],[0.12,0.14],[0.17,0.15],[0.23,0.15],[0.29,0.15],[0.36,0.16],[0.44,0.15],[0.53,0.16],[0.61,0.14],[0.67,0.16],
  [-0.99,0.16],[-0.93,0.15],[-0.87,0.16],[-0.81,0.15],[-0.74,0.16],[-0.69,0.17],[-0.62,0.17],[-0.56,0.16],[-0.49,0.17],[-0.43,0.16],[-0.37,0.18],[-0.31,0.17],[-0.25,0.16],[-0.19,0.18],[-0.13,0.17],[-0.07,0.18],[0.08,0.18],[0.15,0.19],[0.22,0.17],[0.29,0.18],[0.35,0.19],[0.42,0.18],[0.49,0.20],[0.55,0.18],[0.61,0.17],[0.68,0.19],[0.75,0.18],[0.84,0.17],[-1.02,0.20],[-0.95,0.19],[-0.89,0.20],[-0.83,0.19],[-0.77,0.21],[-0.70,0.19],[-0.65,0.21],[-0.58,0.20],[-0.52,0.22],[-0.45,0.20],[-0.38,0.20],[-0.33,0.21],[-0.27,0.22],[-0.21,0.21],[-0.12,0.20],[0.12,0.21],[0.18,0.20],[0.25,0.22],[0.32,0.21],[0.39,0.20],[0.47,0.22],[0.54,0.20],[0.58,0.22],[0.65,0.21],[0.71,0.22],[0.79,0.21],[0.86,0.20],
  [-1.28,0.23],[-1.21,0.22],[-1.15,0.24],[-1.08,0.22],[-1.01,0.23],[-0.94,0.22],[-0.87,0.24],[-0.80,0.22],[-0.73,0.23],[-0.68,0.25],[-0.61,0.23],[-0.55,0.25],[-0.48,0.23],[-0.41,0.24],[-0.34,0.22],[-0.27,0.24],[-0.20,0.23],[0.15,0.23],[0.22,0.25],[0.30,0.23],[0.37,0.24],[0.44,0.23],[0.51,0.25],[0.58,0.23],[0.66,0.24],[0.73,0.23],[0.80,0.24],[0.89,0.23],[0.98,0.23],[-1.24,0.27],[-1.17,0.26],[-1.12,0.28],[-1.05,0.26],[-0.99,0.27],[-0.91,0.26],[-0.85,0.29],[-0.77,0.26],[-0.69,0.27],[-0.65,0.29],[-0.57,0.26],[-0.51,0.29],[-0.44,0.27],[-0.37,0.27],[-0.30,0.26],[-0.23,0.28],[0.17,0.27],[0.25,0.29],[0.33,0.27],[0.41,0.28],[0.49,0.27],[0.55,0.28],[0.64,0.26],[0.71,0.28],[0.80,0.26],[0.91,0.27],[1.00,0.28]];

var bgAll = [].concat(bgSparse, bgLeftUpper, bgRightUpper, bgRightLobe, bgLeftLobe, bgLeftColumn, bgRightColumn, bgCore, bgCoreDense, bgCoreExtra);

var svg = d3.select("#chart");
var serif = "'Liberation Serif', 'Times New Roman', serif";
var sans = "'Liberation Sans', Arial, Helvetica, sans-serif";

var panel = {left: 122, right: 1139, top: 80, bottom: 500};
var x = d3.scaleLinear().domain([-7, 6]).range([140, 1131]);
var y = d3.scaleLinear().domain([0, 2]).range([482, 89]);
var color = d3.scaleSequential(d3.interpolatePlasma).domain(d3.extent(sigFC));

// panel letter and title
svg.append("text").attr("x", 10).attr("y", 26)
    .attr("font-family", serif).attr("font-size", 24).attr("font-weight", "bold").text("A");
svg.append("text").attr("x", 130).attr("y", 53)
    .attr("font-family", serif).attr("font-size", 24).text("NT12 vs UVM4");

// background proteins
svg.append("g").selectAll("circle")
    .data(bgAll)
    .enter().append("circle")
      .attr("cx", function(d) { return x(d[0]); })
      .attr("cy", function(d) { return y(d[1]); })
      .attr("r", 2.1)
      .attr("fill", "#2F4F4F")
      .attr("fill-opacity", 0.66);

// significant proteins as triangles
var sig = sigFC.map(function(fc, i) { return {gene: sigGene[i], fc: fc, p: sigP[i]}; });
svg.append("g").selectAll("path")
    .data(sig)
    .enter().append("path")
      .attr("transform", function(d) { return "translate(" + x(d.fc) + "," + y(d.p) + ")"; })
      .attr("d", function(d) { return d.fc < 0 ? "M-5.5,-4.5L5.5,-4.5L0,5Z" : "M0,-5L5.5,4.5L-5.5,4.5Z"; })
      .attr("fill", function(d) { return color(d.fc); });

// cut-off lines
var dash = "14,10";
svg.append("line")
    .attr("x1", panel.left).attr("x2", panel.right)
    .attr("y1", y(pCut)).attr("y2", y(pCut))
    .attr("stroke", "#000").attr("stroke-width", 2.2).attr("stroke-dasharray", dash);
svg.selectAll(".vcut")
    .data(fcCut)
    .enter().append("line")
      .attr("class", "vcut")
      .attr("x1", function(d) { return x(d); }).attr("x2", function(d) { return x(d); })
      .attr("y1", panel.top + 2).attr("y2", panel.bottom)
      .attr("stroke", "#000").attr("stroke-width", 2.2).attr("stroke-dasharray", dash);

// axes
var xAxis = svg.append("g")
    .attr("transform", "translate(0," + panel.bottom + ")")
    .call(d3.axisBottom(x).tickValues(xTicks).tickSize(6).tickFormat(function(d) { return String(d); }));
xAxis.attr("font-family", serif).attr("font-size", 21);
xAxis.select(".domain").remove();
xAxis.selectAll(".tick line").attr("stroke", "#222").attr("stroke-width", 1.3);
xAxis.selectAll(".tick text").attr("y", 22).attr("dy", null).attr("fill", "#222")
    .attr("font-family", serif).style("font-family", serif);

var yAxis = svg.append("g")
    .attr("transform", "translate(" + panel.left + ",0)")
    .call(d3.axisLeft(y).tickValues(yTicks).tickSize(6).tickPadding(7).tickFormat(d3.format(".1f")));
yAxis.attr("font-family", serif).attr("font-size", 22);
yAxis.select(".domain").remove();
yAxis.selectAll(".tick line").attr("stroke", "#222").attr("stroke-width", 1.3);
yAxis.selectAll(".tick text").attr("dy", "0.36em").attr("fill", "#222")
    .attr("font-family", serif).style("font-family", serif);

svg.append("line").attr("x1", panel.left).attr("x2", panel.left)
    .attr("y1", panel.top).attr("y2", panel.bottom + 0.7)
    .attr("stroke", "#222").attr("stroke-width", 1.4);
svg.append("line").attr("x1", panel.left).attr("x2", panel.right)
    .attr("y1", panel.bottom).attr("y2", panel.bottom)
    .attr("stroke", "#222").attr("stroke-width", 1.4);

// axis titles
var xt = svg.append("text").attr("x", 661).attr("y", 578).attr("text-anchor", "middle")
    .attr("font-family", serif).attr("font-size", 25);
xt.append("tspan").text("Log");
xt.append("tspan").attr("dy", 5).attr("font-size", 15).text("2");
xt.append("tspan").attr("dy", -5).text(" fold change in NT12 vs UVM4");

var yt = svg.append("text").attr("transform", "translate(57,290) rotate(-90)")
    .attr("text-anchor", "middle").attr("font-family", serif).attr("font-size", 23);
yt.append("tspan").text("\u2212log");
yt.append("tspan").attr("dy", 5).attr("font-size", 15).text("10");
yt.append("tspan").attr("dy", -5).text("(p-value)");

// counts
svg.append("text").attr("x", 142).attr("y", 209)
    .attr("font-family", serif).attr("font-size", 25).text(nDown);
svg.append("text").attr("x", 1124).attr("y", 209).attr("text-anchor", "end")
    .attr("font-family", serif).attr("font-size", 25).text(nUp);

// repelled labels with leader segments
var labels = labelGene.map(function(g, i) {
  var s = sig.filter(function(d) { return d.gene === g; })[0];
  return {gene: g, px: x(s.fc), py: y(s.p), cx: x(labelX[i]), cy: y(labelY[i])};
});
var segG = svg.append("g"), boxG = svg.append("g");
labels.forEach(function(d) {
  var g = boxG.append("g");
  var t = g.append("text").attr("x", d.cx).attr("y", d.cy).attr("dy", "0.36em")
      .attr("text-anchor", "middle").attr("font-family", sans).attr("font-size", 13).text(d.gene);
  var w = t.node().getComputedTextLength() + 10, h = 18;
  g.insert("rect", "text")
      .attr("x", d.cx - w / 2).attr("y", d.cy - h / 2)
      .attr("width", w).attr("height", h).attr("rx", 3)
      .attr("fill", "#fff").attr("stroke", "#000").attr("stroke-width", 1);
  // clip segment from point to box edge
  var dx = d.px - d.cx, dy = d.py - d.cy;
  var tt = Math.min(Math.abs(dx) > 0 ? (w / 2) / Math.abs(dx) : Infinity,
                    Math.abs(dy) > 0 ? (h / 2) / Math.abs(dy) : Infinity);
  if (tt >= 1) return;
  var ex = d.cx + dx * tt, ey = d.cy + dy * tt;
  var len = Math.sqrt((ex - d.px) * (ex - d.px) + (ey - d.py) * (ey - d.py));
  var off = Math.min(4, len / 3);
  segG.append("line")
      .attr("x1", d.px + (ex - d.px) * off / len).attr("y1", d.py + (ey - d.py) * off / len)
      .attr("x2", ex).attr("y2", ey)
      .attr("stroke", "#000").attr("stroke-width", 1);
});
</script>
</body>
</html>
